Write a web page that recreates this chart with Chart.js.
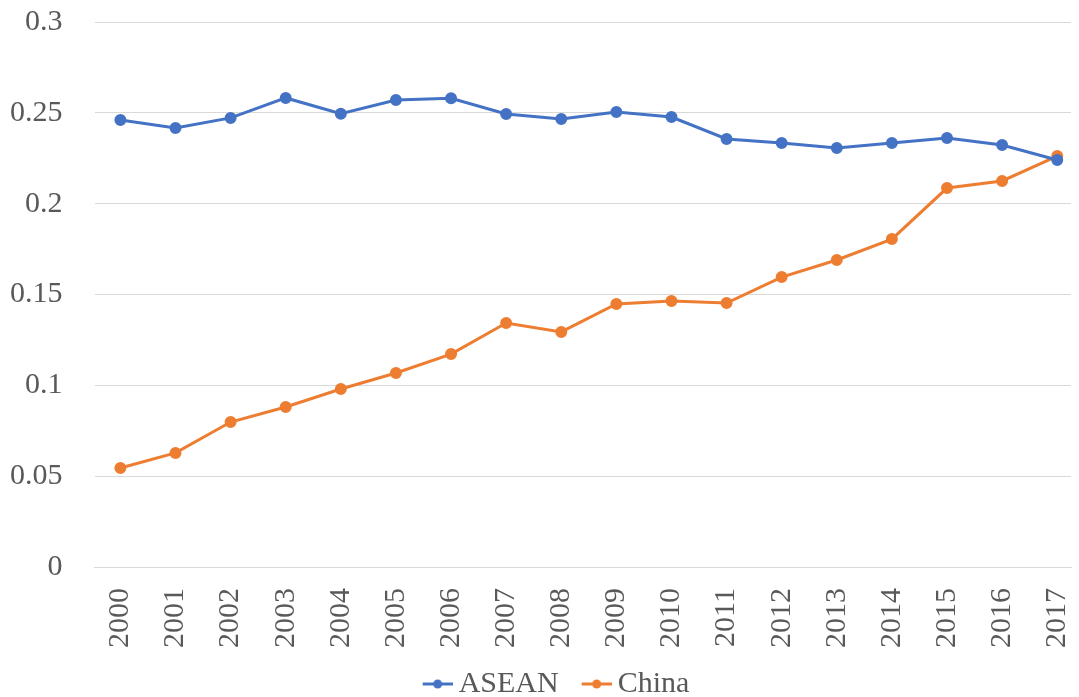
<!DOCTYPE html>
<html lang="en">
<head>
    <meta charset="UTF-8">
    <title>ASEAN vs China</title>
    <script src="https://cdn.jsdelivr.net/npm/chart.js"></script>
    <style>
        html, body { margin: 0; padding: 0; background: #fff; overflow: hidden; }
        #wrap { width: 1079px; height: 697px; }
    </style>
</head>
<body>
    <div id="wrap"><canvas id="chart"></canvas></div>
    <script>
        const years = ['2000', '2001', '2002', '2003', '2004', '2005', '2006', '2007', '2008',
            '2009', '2010', '2011', '2012', '2013', '2014', '2015', '2016', '2017'];
        const asean = [0.246, 0.2417, 0.2472, 0.2582, 0.2495, 0.257, 0.258, 0.2494, 0.2466,
            0.2505, 0.2477, 0.2356, 0.2334, 0.2306, 0.2334, 0.2361, 0.2323, 0.224];
        const china = [0.0545, 0.0628, 0.0798, 0.0881, 0.098, 0.1068, 0.1172, 0.1343, 0.1294,
            0.1448, 0.1464, 0.1453, 0.1596, 0.169, 0.1805, 0.2086, 0.2125, 0.2262];
        const yTicks = [0, 0.05, 0.1, 0.15, 0.2, 0.25, 0.3];

        const blue = '#4472C4';
        const orange = '#ED7D31';
        const textColor = '#595959';
        const fontFamily = "'Liberation Serif', 'DejaVu Serif', serif";

        // years as numbers so the axis can run a little past the first/last year
        const xYears = years.map(Number);
        const points = vals => vals.map((v, i) => ({ x: xYears[i], y: v }));

        // legend marker: short line with a dot, pushed to the right of the box
        const boxW = 44;
        function marker(color) {
            const c = document.createElement('canvas');
            c.width = boxW + 18; c.height = 12;
            const g = c.getContext('2d');
            g.strokeStyle = color;
            g.lineWidth = 3;
            g.beginPath(); g.moveTo(c.width - 30, 6); g.lineTo(c.width, 6); g.stroke();
            g.fillStyle = color;
            g.beginPath(); g.arc(c.width - 15, 6, 4.5, 0, Math.PI * 2); g.fill();
            return c;
        }

        // drop the automatic label overhang padding so the plot area fills the frame
        function noPad(scale) {
            scale.paddingTop = 0; scale.paddingBottom = 0;
            scale.paddingLeft = 0; scale.paddingRight = 0;
        }

        Chart.defaults.font.family = fontFamily;
        Chart.defaults.color = textColor;

        new Chart(document.getElementById('chart'), {
            type: 'line',
            data: {
                datasets: [
                    { label: 'ASEAN', data: points(asean), borderColor: blue, backgroundColor: blue,
                      borderWidth: 3, pointRadius: 4.5, pointHoverRadius: 5, tension: 0 },
                    { label: 'China', data: points(china), borderColor: orange, backgroundColor: orange,
                      borderWidth: 3, pointRadius: 4.5, pointHoverRadius: 5, tension: 0 }
                ]
            },
            options: {
                responsive: true,
                maintainAspectRatio: false,
                animation: false,
                layout: { padding: { left: 10, right: 0, top: 22, bottom: -12 } },
                plugins: {
                    tooltip: { enabled: false },
                    legend: {
                        position: 'bottom',
                        labels: {
                            usePointStyle: true,
                            pointStyleWidth: boxW,
                            font: { size: 30 },
                            padding: 0,
                            generateLabels(chart) {
                                return chart.data.datasets.map((ds, i) => ({
                                    text: ds.label,
                                    fillStyle: ds.borderColor,
                                    strokeStyle: ds.borderColor,
                                    pointStyle: marker(ds.borderColor),
                                    fontColor: textColor,
                                    datasetIndex: i,
                                    hidden: false
                                }));
                            }
                        }
                    }
                },
                scales: {
                    x: {
                        type: 'linear',
                        min: 1999.53,
                        max: 2017.25,
                        afterFit: noPad,
                        afterBuildTicks(scale) { scale.ticks = xYears.map(v => ({ value: v })); },
                        grid: { display: false, drawTicks: false },
                        border: { display: true, color: '#d9d9d9', width: 1 },
                        ticks: { minRotation: 90, maxRotation: 90, autoSkip: false, padding: 21,
                                 font: { size: 30 }, color: textColor,
                                 callback: v => String(v) }
                    },
                    y: {
                        min: 0, max: 0.3,
                        afterFit(scale) {
                            noPad(scale);
                            scale.width -= scale.options.ticks.padding;
                        },
                        afterBuildTicks(scale) { scale.ticks = yTicks.map(v => ({ value: v })); },
                        grid: { color: '#d9d9d9', lineWidth: 1, drawTicks: false },
                        border: { display: false },
                        ticks: { padding: 32, font: { size: 30 }, color: textColor,
                                 callback: v => String(v) }
                    }
                }
            }
        });
    </script>
</body>
</html>
